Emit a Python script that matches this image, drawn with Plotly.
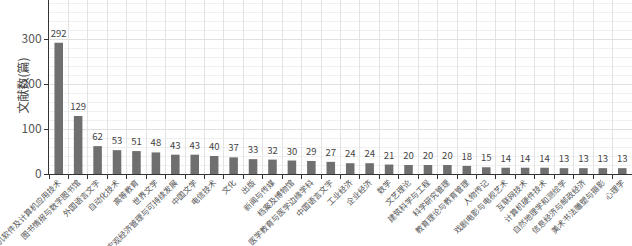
import plotly.graph_objects as go

categories = [
    "计算机软件及计算机应用技术", "图书情报与数字图书馆", "外国语言文字", "自动化技术", "高等教育",
    "世界文学", "宏观经济管理与可持续发展", "中国文学", "电信技术", "文化",
    "出版", "新闻与传媒", "档案及博物馆", "医学教育与医学边缘学科", "中国语言文字",
    "工业经济", "企业经济", "数学", "文艺理论", "建筑科学与工程",
    "科学研究管理", "教育理论与教育管理", "人物传记", "戏剧电影与电视艺术", "互联网技术",
    "计算机硬件技术", "自然地理学和测绘学", "信息经济与邮政经济", "美术书法雕塑与摄影", "心理学",
]
counts = [292, 129, 62, 53, 51, 48, 43, 43, 40, 37, 33, 32, 30, 29, 27,
          24, 24, 21, 20, 20, 20, 18, 15, 14, 14, 14, 13, 13, 13, 13]
y_title = "文献数(篇)"

FONT = "Noto Sans CJK SC, Noto Sans, sans-serif"
TXT = dict(size=9.5, color="#444444", family=FONT)

fig = go.Figure(go.Bar(
    x=categories, y=counts,
    marker=dict(color="#6f6f6f", line=dict(width=0)),
    text=[str(v) for v in counts], textposition="outside",
    textfont=TXT, outsidetextfont=TXT, insidetextfont=TXT,
    constraintext="none",
    cliponaxis=False,
))

fig.update_layout(
    width=632, height=246,
    margin=dict(l=49, r=0, t=0, b=72),
    plot_bgcolor="white", paper_bgcolor="white",
    bargap=0.56,
    showlegend=False,
    uniformtext=dict(mode=False),
    font=dict(family=FONT, color="#444444"),
    annotations=[dict(
        text=y_title, textangle=-90, showarrow=False,
        xref="paper", yref="paper", x=-0.046, y=0.51,
        xanchor="center", yanchor="middle",
        font=dict(size=12, color="#444444", family=FONT),
    )],
)
fig.update_xaxes(
    type="category", tickson="boundaries", ticks="outside", ticklen=4,
    tickcolor="#333333", tickangle=-45, tickfont=dict(size=8, color="#555555"),
    showline=True, linecolor="#333333", linewidth=1, automargin=False,
    showgrid=True, gridcolor="#e3e3e3", gridwidth=1,
)
fig.update_yaxes(
    range=[0, 387], dtick=100, ticks="outside", ticklen=4, tickcolor="#333333",
    tickfont=dict(size=12, color="#555555"), automargin=False,
    showline=True, linecolor="#333333", linewidth=1,
    showgrid=True, gridcolor="#e0e0e0", gridwidth=1,
    minor=dict(dtick=20, showgrid=True, gridcolor="#f0f0f0", gridwidth=1),
    zeroline=False,
)

fig.write_html("out.html")
